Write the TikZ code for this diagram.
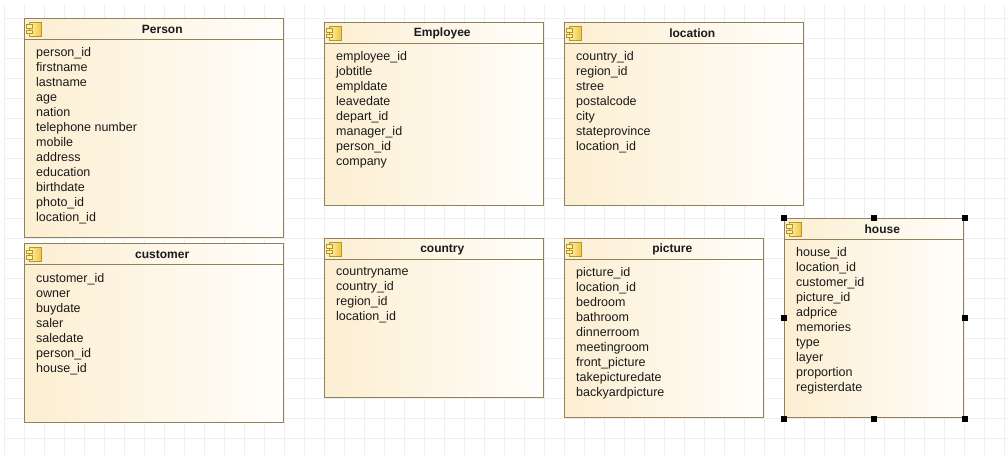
\documentclass[tikz,border=0pt]{standalone}
\usepackage{fontspec}
\setmainfont{Liberation Sans}
\definecolor{boxline}{HTML}{8F8259}
\definecolor{fillL}{HTML}{FCEED1}
\definecolor{fillR}{HTML}{FFFEFB}
\definecolor{gridc}{HTML}{EFEFEF}
\definecolor{iconL}{HTML}{FFF3B0}
\definecolor{iconR}{HTML}{EFC64A}
\definecolor{iconD}{HTML}{B8961F}
\definecolor{txt}{HTML}{1A1A1A}
\usetikzlibrary{calc}
\tikzset{
  x=1pt,y=-1pt,
  umlbox/.style={draw=boxline,line width=1pt,left color=fillL,right color=fillR,middle color=fillR!50!fillL,shading angle=90,inner sep=0pt,outer sep=0pt,anchor=north west},
  umltitle/.style={font=\fontsize{12}{14}\selectfont\bfseries,text=txt,inner sep=0pt,anchor=center},
  umlattrs/.style={font=\fontsize{12.5}{15}\selectfont,text=txt,align=left,inner sep=0pt,anchor=north west},
  handle/.style={fill=black,draw=none,minimum size=6.5pt,inner sep=0pt,outer sep=0pt},
  gridline/.style={draw=gridc,line width=0.7pt},
}
% name, x1, y1, width, height, title, attributes
\newcommand{\umlclass}[7]{%
  \node[umlbox,minimum width=#4pt,minimum height=#5pt] (#1) at (#2,#3) {};
  \coordinate (#1h) at ($(#1.north west)+(0,21)$);
  \coordinate (#1i) at ($(#1.north east)+(0,21)$);
  \draw[draw=boxline,line width=1pt] (#1h) -- (#1i);
  \node[umltitle] (#1t) at ($(#1.north)+(8.5,11.5)$) {#6};
  \node[umlattrs] (#1a) at ($(#1.north west)+(12,29.5)$) {#7};
  \begin{scope}[shift={(#2,#3)}]
    \draw[draw=iconD,line width=.8pt,left color=iconL,right color=iconR,shading angle=90] (5,4) rectangle (17,18);
    \draw[draw=iconD,line width=.8pt,fill=iconL] (2,6.5) rectangle (8,10);
    \draw[draw=iconD,line width=.8pt,fill=iconL] (2,12) rectangle (8,15.5);
  \end{scope}
}
\begin{document}
\begin{tikzpicture}
\path[use as bounding box,fill=white] (0,0) rectangle (1008,455);
\foreach \gx in {4,24,...,1004} \draw[gridline] (\gx,5) -- (\gx,455);
\foreach \gy in {18,38,...,450} \draw[gridline] (4,\gy) -- (1008,\gy);

\umlclass{person}{24}{18}{259.5}{219.5}{Person}{person\_id\\firstname\\lastname\\age\\nation\\telephone number\\mobile\\address\\education\\birthdate\\photo\_id\\location\_id}
\umlclass{customer}{24}{243.5}{259.5}{179}{customer}{customer\_id\\owner\\buydate\\saler\\saledate\\person\_id\\house\_id}
\umlclass{employee}{324}{22}{219.5}{183.5}{Employee}{employee\_id\\jobtitle\\empldate\\leavedate\\depart\_id\\manager\_id\\person\_id\\company}
\umlclass{location}{564}{22}{239.5}{183.5}{location}{country\_id\\region\_id\\stree\\postalcode\\city\\stateprovince\\location\_id}
\umlclass{country}{324}{238}{219.5}{159.5}{country}{countryname\\country\_id\\region\_id\\location\_id}
\umlclass{picture}{564}{238}{199.5}{179.5}{picture}{picture\_id\\location\_id\\bedroom\\bathroom\\dinnerroom\\meetingroom\\front\_picture\\takepicturedate\\backyardpicture}
\umlclass{house}{784}{218}{179.5}{199.5}{house}{house\_id\\location\_id\\customer\_id\\picture\_id\\adprice\\memories\\type\\layer\\proportion\\registerdate}

\node[handle] (h1) at (784,218) {};
\node[handle] (h2) at (874,218) {};
\node[handle] (h3) at (965,218) {};
\node[handle] (h4) at (784,318) {};
\node[handle] (h5) at (965,318) {};
\node[handle] (h6) at (784,419) {};
\node[handle] (h7) at (874,419) {};
\node[handle] (h8) at (965,419) {};
\end{tikzpicture}
\end{document}
